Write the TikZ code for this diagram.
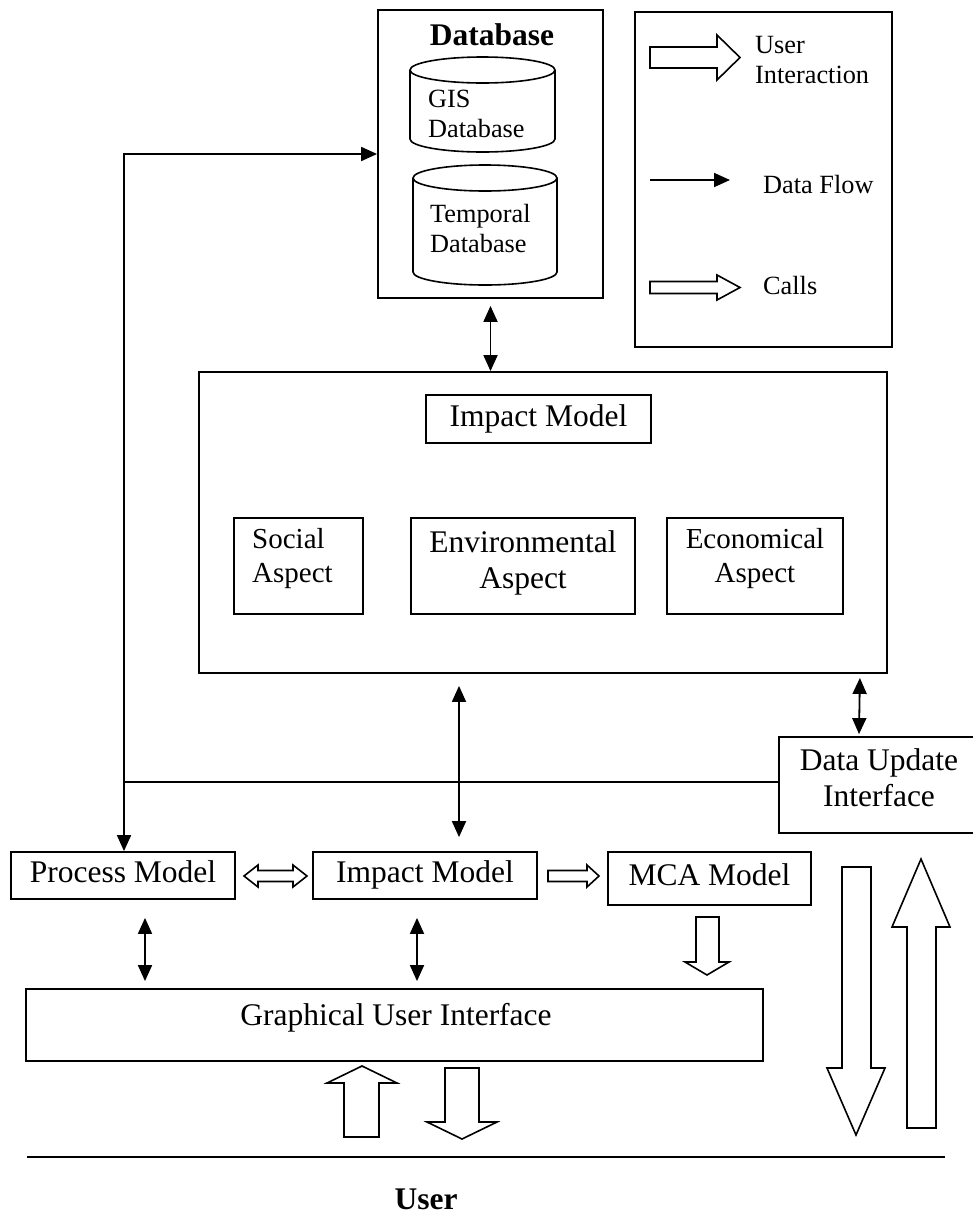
\documentclass[tikz,border=0pt]{standalone}
\usepackage{fontspec}
\setmainfont{Liberation Serif}
\usepackage{tikz}
\usetikzlibrary{arrows.meta}
\usetikzlibrary{calc}

\tikzset{
	box/.style = {draw, line width=1.8pt, inner sep=0pt},
	txt/.style = {inner sep=0pt, font=\fontsize{31.5}{36}\selectfont},
	oneline/.style = {text height=21.5pt, text depth=6.8pt},
	midtxt/.style = {inner sep=0pt, font=\fontsize{29}{34}\selectfont},
	smalltxt/.style = {inner sep=0pt, font=\fontsize{26.3}{30}\selectfont},
	flow/.style = {-{Triangle[length=16pt, width=14pt]}, line width=1.8pt},
	both/.style = {{Triangle[length=16pt, width=14pt]}-{Triangle[length=16pt, width=14pt]}, line width=1.8pt},
	hollow/.style = {draw, line width=1.6pt, line join=miter, fill=white},
}

\begin{document}
\begin{tikzpicture}[x=1pt, y=1pt]
	\useasboundingbox (0,0) rectangle (973,-1216);

	% database
	\node [box, minimum width=225pt, minimum height=288pt] (db) at (490.5,-154) {};
	\node [txt, anchor=base] (dbtitle) at (492,-45) {\textbf{Database}};
	\draw [line width=1.6pt] (410,-70) -- (410,-139) arc [start angle=180, end angle=360, x radius=72.5pt, y radius=13pt] -- (555,-70);
	\draw [line width=1.6pt] (482.5,-70) ellipse [x radius=72.5pt, y radius=13pt];
	\node [smalltxt, align=left, anchor=north west] (gistext) at (428,-89.5) {GIS\\Database};
	\draw [line width=1.6pt] (413,-178) -- (413,-272) arc [start angle=180, end angle=360, x radius=72pt, y radius=13pt] -- (557,-178);
	\draw [line width=1.6pt] (485,-178) ellipse [x radius=72pt, y radius=13pt];
	\node [smalltxt, align=left, anchor=north west] (tdbtext) at (430,-204) {Temporal\\Database};

	% legend
	\node [box, minimum width=257pt, minimum height=335pt] (legend) at (763.5,-179.5) {};
	\draw [hollow] (650,-47) -- (717,-47) -- (717,-35) -- (740,-57.5) -- (717,-80) -- (717,-68) -- (650,-68) -- cycle;
	\node [smalltxt, align=left, anchor=north west] (uitext) at (755,-35.6) {User\\Interaction};
	\draw [flow] (650,-180) -- (730,-180);
	\node [smalltxt, anchor=base west] (dftext) at (763,-193) {Data Flow};
	\draw [hollow] (650,-281.5) -- (717,-281.5) -- (717,-275) -- (740,-287.5) -- (717,-300) -- (717,-293.5) -- (650,-293.5) -- cycle;
	\node [smalltxt, anchor=base west] (calltext) at (763,-294) {Calls};

	% impact model
	\node [box, minimum width=688pt, minimum height=301pt] (imbox) at (543,-522.5) {};
	\node [box, txt, oneline, minimum width=225pt, minimum height=48pt] (imtitle) at (538.5,-419) {Impact Model};
	\node [box, minimum width=129pt, minimum height=96pt] (social) at (298.5,-566) {};
	\node [box, minimum width=224pt, minimum height=96pt] (env) at (523,-566) {};
	\node [box, minimum width=176pt, minimum height=96pt] (econ) at (755,-566) {};
	\node [midtxt, align=left, anchor=north west] (soctext) at (252,-528) {Social\\Aspect};
	\node [txt, align=center, anchor=north] (envtext) at (523,-530.5) {Environmental\\Aspect};
	\node [midtxt, align=center, anchor=north] (ecotext) at (755,-528) {Economical\\Aspect};

	% models and interfaces
	\node [box, minimum width=200pt, minimum height=96pt] (dui) at (879,-785) {};
	\node [txt, align=center, anchor=north] (duitext) at (879,-748.5) {Data Update\\Interface};
	\node [box, txt, oneline, minimum width=224pt, minimum height=47pt] (pm) at (123,-875.5) {Process Model};
	\node [box, txt, oneline, minimum width=224pt, minimum height=47pt] (im) at (425,-875.5) {Impact Model};
	\node [box, txt, oneline, minimum width=203pt, minimum height=53pt] (mca) at (709.5,-878.5) {MCA Model};
	\node [box, minimum width=737pt, minimum height=72pt] (gui) at (394.5,-1025) {};
	\node [txt, anchor=base] (guitext) at (396,-1025) {Graphical User Interface};

	% data flow
	\coordinate (junc) at (124,-782);
	\draw [flow] (junc) |- (db.west);
	\draw [flow] (junc) -- (junc |- pm.north);
	\draw [line width=1.8pt] (junc) -- (junc -| dui.west);
	\draw [both, shorten <=7pt] (db.south) -- (db.south |- imbox.north);
	\coordinate (c1) at ($(imbox.south)+(-84,-12)$);
	\coordinate (c2) at ($(im.north)+(34,14)$);
	\draw [both] (c1) -- (c2);
	\coordinate (c3) at ($(imbox.south east)+(-28,-4)$);
	\coordinate (c4) at ($(dui.north)+(-20,2)$);
	\draw [both] (c3) -- (c4);
	\coordinate (c5) at ($(pm.south)+(22,-18)$);
	\coordinate (c6) at ($(c5 |- gui.north)+(0,7)$);
	\draw [both] (c5) -- (c6);
	\coordinate (c7) at ($(im.south)+(-8,-18)$);
	\coordinate (c8) at ($(c7 |- gui.north)+(0,7)$);
	\draw [both] (c7) -- (c8);

	% calls and user interaction
	\draw [hollow] (244,-876) -- (258,-865) -- (258,-870.5) -- (293,-870.5) -- (293,-865) -- (307,-876) -- (293,-887) -- (293,-881.5) -- (258,-881.5) -- (258,-887) -- cycle;
	\draw [hollow] (548,-870.5) -- (587,-870.5) -- (587,-865) -- (599,-876) -- (587,-887) -- (587,-881.5) -- (548,-881.5) -- cycle;
	\draw [hollow] (696,-917) -- (719,-917) -- (719,-962) -- (729,-962) -- (707,-975) -- (685,-962) -- (696,-962) -- cycle;
	\draw [hollow] (344,-1137) -- (379,-1137) -- (379,-1083) -- (397,-1083) -- (362,-1066) -- (327,-1083) -- (344,-1083) -- cycle;
	\draw [hollow] (445,-1068) -- (479,-1068) -- (479,-1122) -- (497,-1122) -- (462,-1139) -- (427,-1122) -- (445,-1122) -- cycle;
	\draw [hollow] (842,-867) -- (871,-867) -- (871,-1068) -- (885,-1068) -- (856,-1135) -- (827,-1068) -- (842,-1068) -- cycle;
	\draw [hollow] (907,-1128) -- (936,-1128) -- (936,-927) -- (950,-927) -- (921,-859) -- (892,-927) -- (907,-927) -- cycle;

	% user
	\draw [line width=1.8pt] (27,-1157) -- (945,-1157);
	\node [txt, anchor=base] (user) at (426,-1209) {\textbf{User}};
\end{tikzpicture}
\end{document}
